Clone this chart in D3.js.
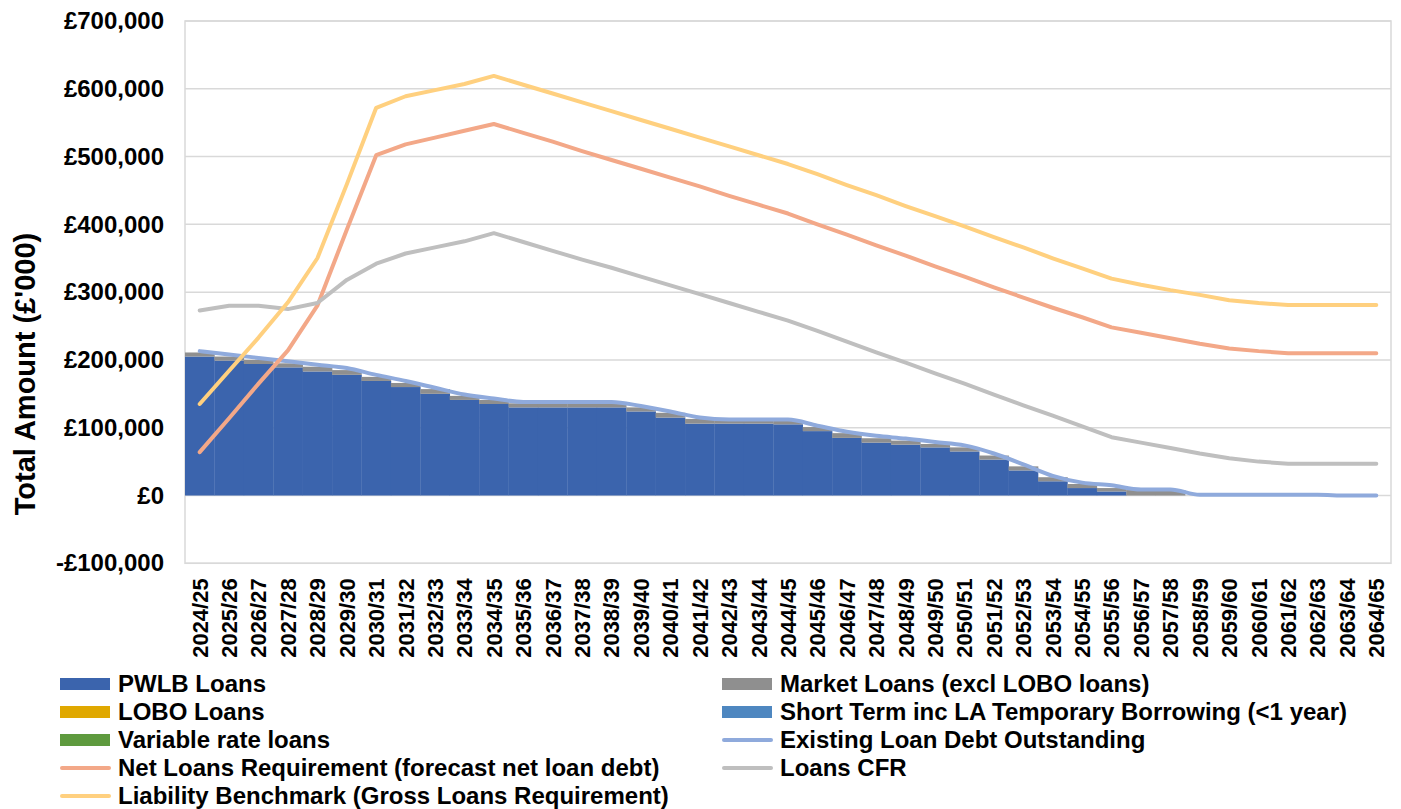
<!DOCTYPE html>
<html>
<head>
    <title>Liability Benchmark</title>
    <meta charset="utf-8">
    <style>
        body { margin: 0; background: #fff; }
        svg { display: block; background: #fff; }
        text { font-family: "Liberation Sans", Arial, sans-serif; font-weight: bold; fill: #000; }
        .grid line { stroke: #d9d9d9; stroke-width: 1.5px; }
        .series-line { fill: none; stroke-width: 4px; stroke-linejoin: round; stroke-linecap: round; }
    </style>
    <script src="https://cdn.jsdelivr.net/npm/d3@7"></script>
</head>
<body>
    <svg width="1401" height="809"></svg>
    <script>
        // ---- data (values in £'000) ----
        var years = ["2024/25", "2025/26", "2026/27", "2027/28", "2028/29", "2029/30", "2030/31", "2031/32", "2032/33", "2033/34",
            "2034/35", "2035/36", "2036/37", "2037/38", "2038/39", "2039/40", "2040/41", "2041/42", "2042/43", "2043/44",
            "2044/45", "2045/46", "2046/47", "2047/48", "2048/49", "2049/50", "2050/51", "2051/52", "2052/53", "2053/54",
            "2054/55", "2055/56", "2056/57", "2057/58", "2058/59", "2059/60", "2060/61", "2061/62", "2062/63", "2063/64", "2064/65"];

        var pwlb = [205000, 199000, 194000, 189000, 183000, 178000, 169000, 160000, 150000, 141000,
            135000, 130000, 130000, 130000, 130000, 124000, 115000, 106000, 106000, 106000,
            105000, 95000, 85000, 78000, 75000, 71000, 65000, 53000, 37000, 21000,
            11000, 6000, 0, 0, 0, 0, 0, 0, 0, 0, 0];
        var market = [6000, 6000, 6000, 6000, 7000, 7000, 6000, 6000, 7000, 6000,
            6000, 6000, 6000, 6000, 6000, 6000, 7000, 7000, 5000, 5000,
            5000, 6000, 7000, 6500, 6000, 5000, 6000, 6000, 6000, 6000,
            6000, 5000, 8000, 8000, 0, 0, 0, 0, 0, 0, 0];
        var lobo = years.map(function () { return 0; });
        var shortTerm = years.map(function () { return 0; });
        var variableRate = years.map(function () { return 0; });

        var existingDebt = [213000, 208000, 203000, 198000, 193000, 188000, 178000, 169000, 159000, 149000,
            143000, 138000, 138000, 138000, 138000, 132000, 124000, 115000, 112000, 112000,
            112000, 103000, 94000, 88000, 84000, 79000, 74000, 62000, 46000, 29000,
            19000, 15000, 9000, 9000, 1000, 1000, 1000, 1000, 1000, 0, 0];
        var netRequirement = [64000, 114000, 165000, 214000, 280000, 392000, 502000, 518000, 528000, 538000,
            548000, 535000, 522000, 508000, 495000, 482000, 469000, 456000, 442000, 429000,
            416000, 400000, 385000, 369000, 354000, 338000, 323000, 307000, 292000, 277000,
            263000, 248000, 240000, 232000, 224000, 217000, 213000, 210000, 210000, 210000, 210000];
        var loansCFR = [273000, 280000, 280000, 275000, 284000, 318000, 342000, 357000, 366000, 375000,
            387000, 374000, 361000, 348000, 336000, 323000, 310000, 297000, 284000, 271000,
            258000, 243000, 227000, 211000, 196000, 180000, 165000, 149000, 133000, 118000,
            102000, 86000, 78000, 70000, 62000, 55000, 50000, 47000, 47000, 47000, 47000];
        var liabilityBenchmark = [135000, 184000, 233000, 285000, 350000, 459000, 572000, 589000, 598000, 607000,
            619000, 606000, 593000, 580000, 567000, 554000, 541000, 528000, 515000, 502000,
            489000, 474000, 458000, 443000, 427000, 412000, 397000, 381000, 366000, 350000,
            335000, 320000, 311000, 303000, 296000, 288000, 284000, 281000, 281000, 281000, 281000];

        var yTicks = [-100000, 0, 100000, 200000, 300000, 400000, 500000, 600000, 700000];

        var barSeries = [
            { name: "PWLB Loans", values: pwlb, color: "#3b64ad" },
            { name: "Market Loans (excl LOBO loans)", values: market, color: "#8f8f8f" },
            { name: "LOBO Loans", values: lobo, color: "#e0a800" },
            { name: "Short Term inc LA Temporary Borrowing (<1 year)", values: shortTerm, color: "#4e87c0" },
            { name: "Variable rate loans", values: variableRate, color: "#5e9a3e" }
        ];
        var lineSeries = [
            { name: "Existing Loan Debt Outstanding", values: existingDebt, color: "#8faadc", smooth: true },
            { name: "Net Loans Requirement (forecast net loan debt)", values: netRequirement, color: "#f3a888" },
            { name: "Loans CFR", values: loansCFR, color: "#bfbfbf" },
            { name: "Liability Benchmark (Gross Loans Requirement)", values: liabilityBenchmark, color: "#ffd07f" }
        ];

        // ---- layout ----
        var svg = d3.select("svg");
        var plot = { left: 185, right: 1391, top: 21, bottom: 563.3 };

        var x = d3.scaleBand().domain(years).range([plot.left, plot.right]).padding(0);
        var y = d3.scaleLinear().domain([-100000, 700000]).range([plot.bottom, plot.top]);

        // plot border + gridlines
        svg.append("rect")
            .attr("x", plot.left).attr("y", plot.top)
            .attr("width", plot.right - plot.left).attr("height", plot.bottom - plot.top)
            .attr("fill", "none").attr("stroke", "#d9d9d9").attr("stroke-width", 1.5);

        svg.append("g").attr("class", "grid")
            .selectAll("line").data(yTicks).enter().append("line")
            .attr("x1", plot.left).attr("x2", plot.right)
            .attr("y1", function (d) { return y(d); })
            .attr("y2", function (d) { return y(d); });

        // stacked bars
        var table = years.map(function (yr, i) {
            var row = { year: yr };
            barSeries.forEach(function (s) { row[s.name] = s.values[i]; });
            return row;
        });
        var stack = d3.stack().keys(barSeries.map(function (s) { return s.name; }));
        var stacked = stack(table);

        svg.append("g").selectAll("g")
            .data(stacked).enter().append("g")
            .attr("fill", function (d, i) { return barSeries[i].color; })
            .selectAll("rect")
            .data(function (d) { return d; })
            .enter().append("rect")
            .attr("x", function (d) { return x(d.data.year); })
            .attr("width", x.bandwidth() + 0.3)
            .attr("y", function (d) { return y(d[1]); })
            .attr("height", function (d) { return Math.max(0, y(d[0]) - y(d[1])); });

        // lines
        lineSeries.forEach(function (s) {
            var line = d3.line()
                .x(function (d, i) { return x(years[i]) + x.bandwidth() / 2; })
                .y(function (d) { return y(d); })
                .curve(s.smooth ? d3.curveMonotoneX : d3.curveLinear);
            svg.append("path")
                .attr("class", "series-line")
                .attr("stroke", s.color)
                .attr("d", line(s.values));
        });

        // y axis
        var fmt = d3.format(",");
        var yAxis = svg.append("g")
            .attr("transform", "translate(" + plot.left + ",0)")
            .call(d3.axisLeft(y).tickValues(yTicks).tickSize(0).tickPadding(21)
                .tickFormat(function (d) { return (d < 0 ? "-£" : "£") + fmt(Math.abs(d)); }));
        yAxis.select(".domain").remove();
        yAxis.selectAll("text")
            .style("font-family", "'Liberation Sans', Arial, sans-serif")
            .style("font-weight", "bold")
            .style("font-size", "24px")
            .attr("fill", "#000");

        svg.append("text")
            .attr("transform", "translate(35,374) rotate(-90)")
            .attr("text-anchor", "middle")
            .style("font-size", "29px")
            .text("Total Amount (£'000)");

        // x axis (labels only, rotated)
        var xAxis = svg.append("g")
            .attr("transform", "translate(0," + plot.bottom + ")")
            .call(d3.axisBottom(x).tickSize(0));
        xAxis.select(".domain").remove();
        xAxis.selectAll("text")
            .attr("transform", "translate(0,15) rotate(-90)")
            .attr("x", 0).attr("y", 0).attr("dy", "0.36em")
            .attr("text-anchor", "end")
            .attr("fill", "#000")
            .style("font-family", "'Liberation Sans', Arial, sans-serif")
            .style("font-weight", "bold")
            .style("font-size", "22px");

        // legend
        var legendItems = [];
        barSeries.forEach(function (s) { legendItems.push({ name: s.name, color: s.color, kind: "rect" }); });
        lineSeries.forEach(function (s) { legendItems.push({ name: s.name, color: s.color, kind: "line" }); });

        var legend = svg.append("g").selectAll("g")
            .data(legendItems).enter().append("g")
            .attr("transform", function (d, i) {
                var col = i % 2, row = Math.floor(i / 2);
                return "translate(" + (col === 0 ? 60 : 722) + "," + (684 + row * 28) + ")";
            });

        legend.filter(function (d) { return d.kind === "rect"; })
            .append("rect")
            .attr("x", 0).attr("y", -6).attr("width", 50).attr("height", 12)
            .attr("fill", function (d) { return d.color; });

        legend.filter(function (d) { return d.kind === "line"; })
            .append("line")
            .attr("x1", 2).attr("x2", 49).attr("y1", 0).attr("y2", 0)
            .attr("stroke", function (d) { return d.color; })
            .attr("stroke-width", 4).attr("stroke-linecap", "round");

        legend.append("text")
            .attr("x", 58).attr("y", 8)
            .style("font-size", "24px")
            .text(function (d) { return d.name; });
    </script>
</body>
</html>
